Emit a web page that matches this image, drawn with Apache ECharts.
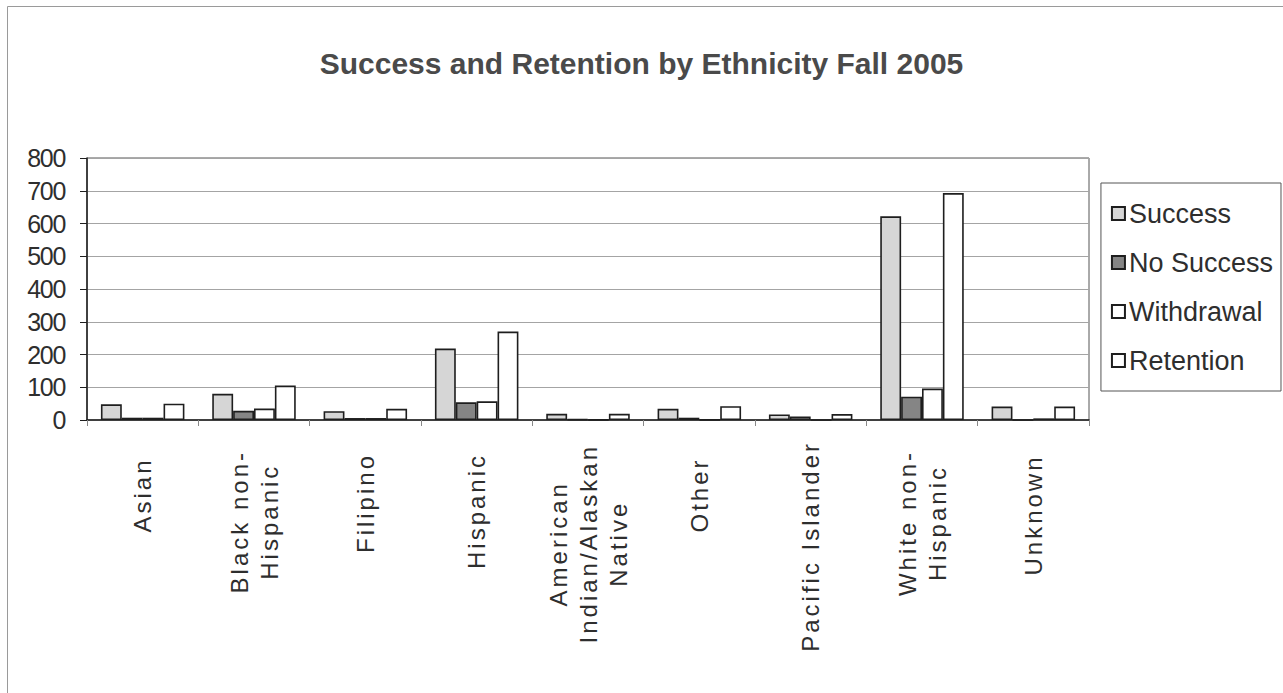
<!DOCTYPE html>
<html>
<head>
<meta charset="utf-8">
<script src="https://cdn.jsdelivr.net/npm/echarts@6/dist/echarts.min.js"></script>
<style>
  html, body { margin: 0; padding: 0; background: #ffffff; }
  #chart { width: 1283px; height: 693px; }
</style>
</head>
<body>
<div id="chart"></div>
<script>
// Student counts by ethnicity, Fall 2005
const categories = [
  'Asian',
  'Black non-\nHispanic',
  'Filipino',
  'Hispanic',
  'American\nIndian/Alaskan\nNative',
  'Other',
  'Pacific Islander',
  'White non-\nHispanic',
  'Unknown'
];
const successValues    = [48, 80, 27, 218, 19, 34, 17, 622, 41];
const noSuccessValues  = [7, 28, 6, 54, 2, 7, 11, 71, 0];
const withdrawalValues = [7, 35, 6, 57, 1, 1, 0, 96, 5];
const retentionValues  = [50, 105, 34, 270, 19, 42, 18, 693, 41];
const yTicks = { min: 0, max: 800, interval: 100 };

const sans = '"Liberation Sans", Arial, sans-serif';
const ink = '#1e1e1e';
const textInk = '#2e2e2e';

function barSeries(name, data, fill) {
  return {
    name: name,
    type: 'bar',
    data: data,
    barGap: '0%',
    barCategoryGap: '25%',
    itemStyle: { color: fill, borderColor: ink, borderWidth: 1.6 },
    emphasis: { disabled: true }
  };
}

const chart = echarts.init(document.getElementById('chart'), null, { renderer: 'svg' });
chart.setOption({
  animation: false,
  backgroundColor: '#ffffff',
  title: {
    text: 'Success and Retention by Ethnicity Fall 2005',
    left: 'center',
    top: 43,
    textStyle: { fontFamily: sans, fontSize: 30, fontWeight: 'bold', color: '#4a4a4a' }
  },
  graphic: [{
    type: 'rect',
    left: 5, top: 4,
    shape: { width: 1300, height: 720 },
    style: { fill: 'none', stroke: '#9a9a9a', lineWidth: 1 },
    silent: true
  }],
  legend: {
    orient: 'vertical',
    right: 2,
    top: 183,
    padding: [17, 8, 17, 10],
    borderColor: '#555555',
    borderWidth: 1,
    itemGap: 22,
    itemWidth: 13,
    itemHeight: 13,
    icon: 'rect',
    textStyle: { fontFamily: sans, fontSize: 27, color: textInk, padding: [0, 0, 0, -1] },
    data: ['Success', 'No Success', 'Withdrawal', 'Retention']
  },
  grid: {
    left: 87,
    right: 194,
    top: 158,
    bottom: 273,
    show: true,
    borderColor: '#555555',
    borderWidth: 1,
    backgroundColor: '#ffffff'
  },
  xAxis: {
    type: 'category',
    data: categories,
    axisLine: { lineStyle: { color: ink, width: 1.5 } },
    axisTick: { show: true, length: 6, lineStyle: { color: '#888888' } },
    axisLabel: {
      interval: 0,
      rotate: 90,
      margin: 45,
      fontFamily: sans,
      fontSize: 24,
      lineHeight: 30,
      color: textInk,
      formatter: function (v) {
        return v.split('\n').map(function (line) { return '{c|' + line + '}'; }).join('\n');
      },
      rich: {
        c: { align: 'center', fontFamily: sans, fontSize: 24, lineHeight: 30, color: textInk }
      }
    }
  },
  yAxis: {
    type: 'value',
    min: yTicks.min,
    max: yTicks.max,
    interval: yTicks.interval,
    axisLine: { show: true, lineStyle: { color: ink, width: 1.5 } },
    axisTick: { show: true, length: 7, lineStyle: { color: ink } },
    axisLabel: { margin: 22, fontFamily: sans, fontSize: 25, color: textInk },
    splitLine: { lineStyle: { color: '#a4a4a4', width: 1 } }
  },
  series: [
    barSeries('Success', successValues, '#d6d6d6'),
    barSeries('No Success', noSuccessValues, '#858585'),
    barSeries('Withdrawal', withdrawalValues, '#ffffff'),
    barSeries('Retention', retentionValues, '#ffffff')
  ]
});

// Letter spacing: spread the rotated category names, tighten the value labels
const categoryLines = new Set();
categories.forEach(function (c) { c.split('\n').forEach(function (l) { categoryLines.add(l); }); });
const valueLabels = new Set();
for (let v = yTicks.min; v <= yTicks.max; v += yTicks.interval) valueLabels.add(String(v));
function adjustLabelSpacing() {
  document.querySelectorAll('#chart text').forEach(function (t) {
    const s = t.textContent;
    if (categoryLines.has(s)) {
      t.setAttribute('letter-spacing', '3');
    } else if (valueLabels.has(s)) {
      t.setAttribute('letter-spacing', '-1.3');
    }
  });
}
chart.on('finished', adjustLabelSpacing);
chart.on('rendered', adjustLabelSpacing);
setTimeout(adjustLabelSpacing, 50);
</script>
</body>
</html>
